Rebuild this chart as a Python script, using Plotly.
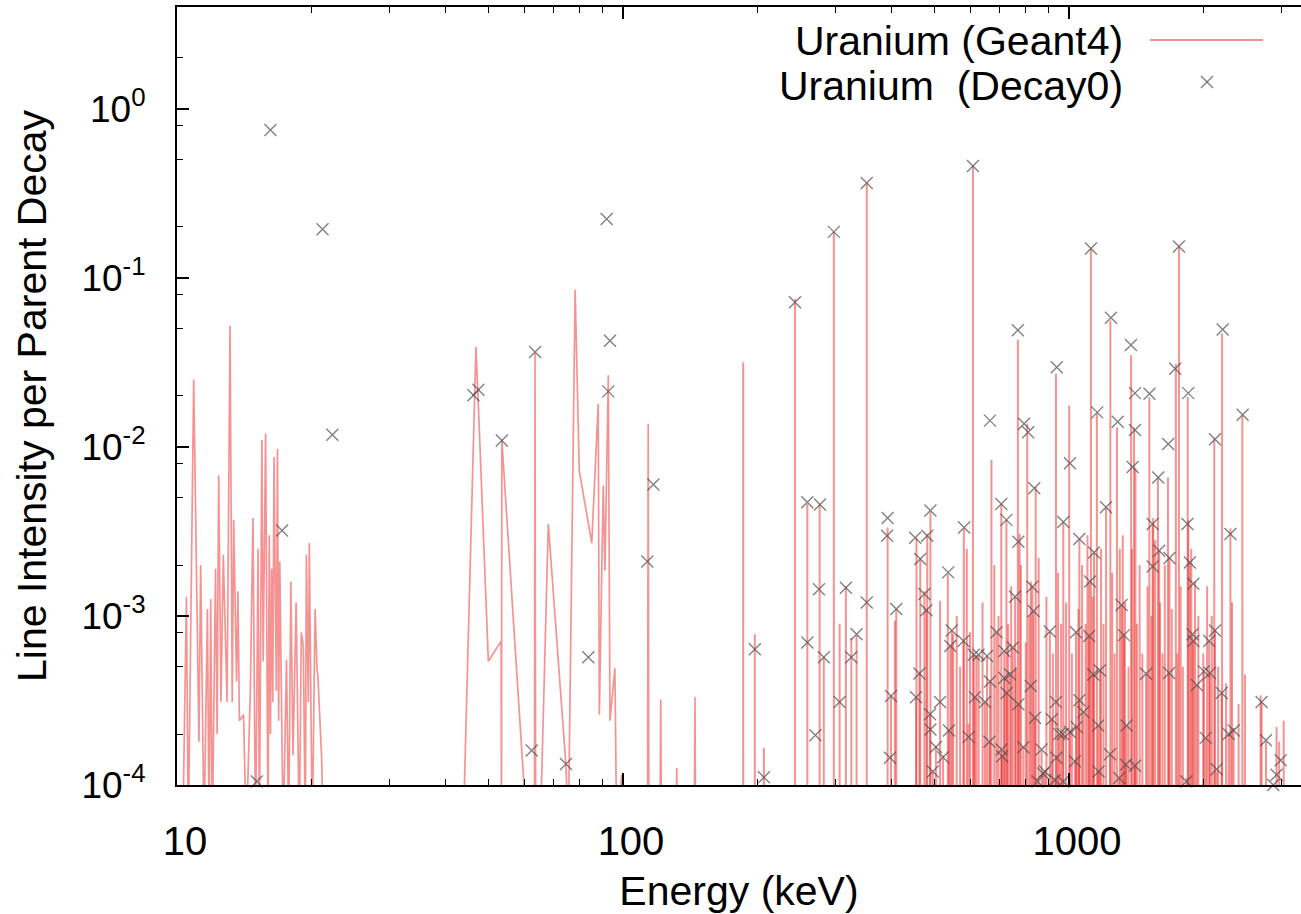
import plotly.graph_objects as go

# ---------------- data ----------------
# Geant4: low-energy part drawn as a connected line (values < 1e-4 lie below the axis)
g4_lowE_energy = [
    10.3, 10.5, 10.6, 10.9, 11.2, 11.3, 11.5, 11.7, 11.8, 11.9,
    12.0, 12.2, 12.3, 12.4, 12.55, 12.7, 12.95, 13.15, 13.3, 13.4,
    13.6, 13.7, 13.8, 14.1, 14.3, 14.6, 14.8, 15.0, 15.2, 15.3,
    15.5, 15.6, 15.8, 16.0, 16.1, 16.2, 16.3, 16.4, 16.5, 16.7,
    16.8, 16.9, 17.0, 17.1, 17.3, 17.6, 17.8, 18.0, 18.2, 18.5,
    18.8, 19.0, 19.2, 19.4, 19.5, 19.7, 19.8, 20.1, 20.4, 20.6,
    20.7, 21.1, 21.3,
    43.8, 46.8, 47.3, 49.9, 53.3, 53.4, 53.5, 61.0, 63.3, 63.5,
    63.7, 65.2, 68.0, 74.5, 75.4, 78.1, 79.8, 85.1, 88.0, 88.5,
    90.3, 91.1, 92.7, 93.5, 95.9, 96.8, 99.3, 100.5, 113.5, 113.9,
    114.3, 121.0, 121.5, 122.0, 131.5, 132.0, 132.5, 144.5, 145.0, 145.5,
]
g4_lowE_intensity = [
    5e-5, 1.3e-3, 5e-5, 0.025, 1.8e-4, 2.0e-3, 5e-5, 1.1e-3, 5e-5, 1.26e-3,
    5e-5, 1.9e-3, 2.0e-4, 6.8e-3, 3.1e-4, 2.3e-3, 3.1e-4, 0.052, 3.1e-4, 3.7e-3,
    4.1e-4, 1.4e-3, 2.4e-4, 2.6e-4, 5e-5, 3.5e-4, 3.8e-3, 5e-5, 2.5e-3, 5e-5,
    0.011, 5.4e-4, 0.012, 5e-5, 3.0e-3, 2.0e-4, 1.9e-3, 3.1e-4, 8.7e-3, 3.6e-4,
    9.7e-3, 2.4e-4, 2.1e-3, 4.0e-4, 5e-5, 5.5e-4, 5e-5, 1.6e-3, 1.5e-4, 1.2e-3,
    5e-5, 8.0e-4, 6.6e-4, 5e-5, 2.3e-3, 3.1e-4, 2.7e-3, 5e-5, 1.1e-3, 4.9e-4,
    4.4e-4, 1.45e-4, 5e-5,
    5e-5, 0.039, 0.020, 5.4e-4, 7.1e-4, 5e-5, 0.011, 5e-5, 5e-5, 0.036,
    5e-5, 5e-5, 3.5e-3, 1.3e-4, 5e-5, 0.085, 7.2e-3, 2.7e-3, 0.018, 2.6e-4,
    5.9e-3, 1.85e-3, 0.0265, 2.4e-4, 4.9e-4, 5e-5, 1.15e-4, 5e-5, 5e-5, 0.0137,
    5e-5, 5e-5, 3.2e-4, 5e-5, 5e-5, 1.26e-4, 5e-5, 5e-5, 3.3e-4, 5e-5,
]

# Geant4: individual gamma lines above ~180 keV (drawn as impulses)
g4_line_energy = [
    186, 197.5, 207, 243, 259, 276, 282, 297, 306, 316,
    325, 334, 352, 392, 407, 455, 481, 489, 514, 535,
    550, 581, 595, 609, 620, 627, 648, 655, 663, 670,
    688, 705, 716, 724, 738, 742, 748, 757, 768, 775,
    790, 806, 821, 833, 839, 842, 868, 906, 915, 935,
    951, 971, 1001, 1031, 1037, 1055, 1077, 1110, 1120, 1134,
    1138, 1155, 1163, 1173, 1211, 1236, 1238, 1281, 1312, 1328,
    1346, 1378, 1399, 1409, 1489, 1514, 1545, 1583, 1593, 1667,
    1680, 1736, 1764, 1846, 1851, 1892, 1917, 1935, 2006, 2062,
    2117, 2125, 2200, 2204, 2280, 2301, 2340, 2447, 2690, 2920,
    2960, 3030,
    # weaker lines
    399, 410, 454, 462, 464, 474, 479, 488, 495, 503,
    522, 538, 542, 546, 560, 570, 580, 590, 600, 612,
    615, 640, 665, 680, 695, 706, 708, 716, 725, 730,
    760, 770, 780, 800, 815, 828, 850, 855, 875, 883,
    890, 920, 930, 937, 945, 960, 969, 985, 1005, 1015,
    1040, 1050, 1055, 1070, 1090, 1100, 1110, 1130, 1165, 1180,
    1195, 1250, 1265, 1296, 1300, 1320, 1335, 1341, 1360, 1385,
    1406, 1420, 1440, 1460, 1500, 1530, 1540, 1560, 1600, 1620,
    1640, 1677, 1700, 1750, 1780, 1800, 1833, 1866, 1880, 1900,
    1950, 2000, 2025, 2040, 2070, 2090, 2144, 2160, 2250, 2320,
    2400, 2480, 2703, 2765,
]
g4_line_intensity = [
    0.0316, 7.8e-4, 1.66e-4, 0.075, 4.6e-3, 4.6e-3, 5.7e-4, 0.187, 9.0e-4, 1.5e-3,
    7.4e-4, 7.7e-4, 0.364, 3.34e-3, 9.4e-4, 2.9e-3, 3.05e-3, 4.1e-3, 1.23e-3, 1.77e-3,
    7.8e-4, 3.27e-3, 2.3e-4, 0.46, 5.9e-4, 5.9e-4, 3.1e-4, 5.8e-4, 1.8e-4, 8.4e-3,
    8.0e-4, 4.6e-3, 6.2e-4, 3.7e-3, 4.5e-4, 1.5e-3, 6.5e-4, 1.3e-3, 0.043, 3.05e-3,
    1.7e-4, 0.0137, 1.6e-3, 1.07e-3, 2.5e-4, 5.8e-3, 1.6e-4, 8.1e-4, 2.45e-4, 0.0271,
    2.0e-4, 3.6e-3, 0.0176, 1.4e-4, 8.0e-4, 2.85e-3, 2.7e-4, 1.6e-3, 0.15, 4.5e-4,
    2.37e-3, 0.0158, 2.25e-4, 4.75e-4, 4.4e-3, 1.5e-4, 0.056, 0.013, 1.16e-3, 7.7e-4,
    2.25e-4, 0.0348, 0.013, 7.5e-3, 4.55e-4, 0.0197, 3.8e-3, 6.6e-3, 2.43e-3, 6.6e-3,
    2.2e-3, 0.031, 0.153, 0.0197, 3.7e-3, 7.8e-4, 1.6e-3, 3.9e-4, 4.7e-4, 7.1e-4,
    0.0112, 8.2e-4, 3.5e-4, 0.0468, 2.0e-4, 3.3e-3, 2.1e-4, 0.0154, 3.4e-4, 2.2e-4,
    1.8e-4, 2.4e-4,
    # weaker lines
    3.4e-4, 1.1e-3, 3.3e-4, 4.6e-4, 2.2e-3, 1.4e-3, 1.1e-3, 2.6e-4, 1.2e-4, 1.7e-4,
    1.5e-4, 2.1e-4, 6.7e-4, 8.2e-4, 1.0e-3, 5.0e-4, 7.1e-4, 2.5e-3, 8.0e-4, 5.9e-4,
    3.3e-4, 1.2e-3, 4.1e-4, 2.0e-3, 1.0e-3, 1.6e-4, 1.5e-4, 4.3e-4, 3.5e-4, 9.0e-4,
    5.0e-4, 3.0e-4, 2.0e-3, 7.0e-4, 1.0e-3, 1.5e-3, 1.1e-4, 2.2e-3, 1.2e-4, 1.2e-4,
    1.3e-3, 6.0e-4, 1.1e-4, 1.5e-4, 1.8e-3, 9.0e-4, 2.0e-4, 1.2e-3, 2.1e-4, 6.0e-4,
    2.2e-4, 1.1e-3, 3.2e-4, 2.0e-3, 9.0e-4, 3.0e-3, 7.6e-4, 1.3e-3, 1.2e-4, 2.5e-3,
    9.0e-4, 1.8e-3, 6.0e-4, 1.1e-4, 2.5e-3, 3.0e-3, 1.2e-3, 1.3e-4, 5.0e-4, 2.5e-3,
    1.3e-4, 9.0e-4, 2.0e-3, 6.0e-4, 1.5e-3, 1.0e-3, 3.5e-3, 2.8e-3, 1.2e-3, 6.0e-4,
    2.0e-3, 4.6e-4, 1.1e-3, 6.0e-4, 1.5e-3, 5.0e-4, 1.1e-4, 2.1e-3, 2.5e-3, 7.1e-4,
    1.0e-3, 6.0e-4, 1.9e-4, 1.5e-3, 4.6e-4, 1.0e-3, 1.2e-4, 5.0e-4, 4.0e-4, 1.2e-3,
    3.0e-4, 4.5e-4, 3.1e-4, 1.8e-4,
]

# Decay0 markers
decay0_energy = [
    15.1, 16.2, 17.2, 21.2, 22.3, 46.2, 47.4, 53.5, 62.4, 63.5,
    74.5, 83.6, 91.9, 92.7, 93.5, 113.4, 117, 197.5, 207, 243,
    259, 259, 270, 275, 276.5, 282, 297, 306, 316, 325,
    334, 352, 352, 391, 392, 397, 399, 410, 452, 454,
    462, 464, 474, 479, 481, 488, 489, 489, 495, 503,
    514, 522, 536, 538, 542, 546, 580, 582, 596, 609,
    612, 615, 627, 648, 655, 663, 665, 665, 688, 705,
    706, 708, 716, 716, 724, 725, 738, 748, 757, 768,
    770, 770, 790, 793, 810, 821, 828, 833, 836, 839,
    850, 868, 875, 883, 906, 915, 930, 935, 937, 939,
    951, 969, 971, 971, 1005, 1005, 1031, 1037, 1040, 1055,
    1055, 1077, 1110, 1115, 1120, 1134, 1138, 1157, 1163, 1165,
    1173, 1211, 1236, 1242, 1286, 1296, 1312, 1328, 1341, 1346,
    1377, 1389, 1406, 1406, 1406, 1489, 1515, 1540, 1540, 1585,
    1593, 1669, 1677, 1680, 1730, 1764, 1833, 1843, 1851, 1866,
    1892, 1900, 1900, 1935, 2006, 2025, 2062, 2070, 2125, 2125,
    2144, 2200, 2211, 2280, 2301, 2340, 2451, 2703, 2765, 2870,
    2920, 2983,
]
decay0_intensity = [
    1.05e-4, 0.75, 3.2e-3, 0.194, 0.0118, 0.0202, 0.0218, 0.0109, 1.6e-4, 0.0364,
    1.33e-4, 5.7e-4, 0.223, 0.0213, 0.0424, 2.1e-3, 6.0e-3, 6.35e-4, 1.11e-4, 0.0718,
    4.71e-3, 6.96e-4, 1.97e-4, 1.44e-3, 4.56e-3, 5.7e-4, 0.187, 3.1e-4, 1.47e-3, 5.7e-4,
    7.8e-4, 0.364, 1.2e-3, 2.98e-3, 3.8e-3, 1.45e-4, 3.36e-4, 1.1e-3, 2.9e-3, 3.3e-4,
    4.56e-4, 2.17e-3, 1.35e-3, 1.08e-3, 2.98e-3, 2.62e-4, 4.2e-3, 2.13e-4, 1.2e-4, 1.68e-4,
    3.1e-4, 1.46e-4, 1.81e-3, 2.1e-4, 6.65e-4, 8.2e-4, 7.1e-4, 3.34e-3, 1.92e-4, 0.459,
    5.9e-4, 3.3e-4, 5.9e-4, 3.1e-4, 5.8e-4, 1.8e-4, 4.1e-4, 0.0143, 8.0e-4, 4.6e-3,
    1.62e-4, 1.48e-4, 6.2e-4, 4.3e-4, 3.7e-3, 3.5e-4, 4.5e-4, 6.5e-4, 1.3e-3, 0.049,
    2.75e-3, 3.0e-4, 1.67e-4, 0.0137, 0.0122, 3.85e-4, 1.49e-3, 1.07e-3, 5.7e-3, 2.5e-4,
    1.05e-4, 1.62e-4, 1.17e-4, 1.2e-4, 8.1e-4, 2.45e-4, 1.07e-4, 3.1e-4, 1.45e-4, 0.0296,
    2.0e-4, 2.0e-4, 1.05e-4, 3.6e-3, 2.06e-4, 8.0e-3, 1.38e-4, 8.0e-4, 2.2e-4, 3.17e-4,
    2.85e-3, 2.7e-4, 7.6e-4, 1.6e-3, 0.149, 4.5e-4, 2.37e-3, 0.016, 2.25e-4, 1.2e-4,
    4.75e-4, 4.4e-3, 1.52e-4, 0.058, 0.0141, 1.1e-4, 1.16e-3, 7.7e-4, 1.32e-4, 2.25e-4,
    0.040, 7.6e-3, 0.0208, 0.0126, 1.3e-4, 4.55e-4, 0.0206, 3.5e-3, 1.96e-3, 6.6e-3,
    2.43e-3, 0.0104, 4.6e-4, 2.2e-3, 0.029, 0.153, 1.05e-4, 3.5e-3, 0.0208, 2.07e-3,
    7.8e-4, 7.1e-4, 1.55e-3, 3.9e-4, 4.7e-4, 1.9e-4, 7.1e-4, 4.6e-4, 8.2e-4, 0.0111,
    1.24e-4, 3.5e-4, 0.0494, 2.0e-4, 3.05e-3, 2.1e-4, 0.0155, 3.1e-4, 1.84e-4, 1.0e-4,
    1.15e-4, 1.4e-4,
]

x_tick_vals = [10, 100, 1000]
x_tick_text = ["10", "100", "1000"]
y_tick_vals = [1e-4, 1e-3, 1e-2, 1e-1, 1]
y_tick_text = ["10<sup>-4</sup>", "10<sup>-3</sup>", "10<sup>-2</sup>",
               "10<sup>-1</sup>", "10<sup>0</sup>"]
x_minor_vals = [20, 30, 40, 50, 60, 70, 80, 90,
                200, 300, 400, 500, 600, 700, 800, 900, 2000, 3000]
y_minor_vals = [m * 10.0 ** k for k in range(-4, 1) for m in (2, 5, 8)]

series_names = ["Uranium (Geant4)", "Uranium\u00a0 (Decay0)"]

# ---------------- styling ----------------
FONT = "Liberation Sans, Arial, Helvetica, sans-serif"
RED = "rgba(236, 40, 40, 0.5)"
GRAY = "rgba(80, 80, 80, 0.72)"
W, H = 1301, 914
ML, MR, MT, MB = 177, 0, 7, 129
FLOOR = 1e-7  # impulses start below the visible range

stem_x, stem_y = [], []
for e, v in zip(g4_line_energy, g4_line_intensity):
    stem_x += [e, e, None]
    stem_y += [FLOOR, v, None]

fig = go.Figure()
fig.add_trace(go.Scatter(x=g4_lowE_energy, y=g4_lowE_intensity, mode="lines",
                         line=dict(color=RED, width=1.7), name=series_names[0],
                         showlegend=False, hoverinfo="skip"))
fig.add_trace(go.Scatter(x=stem_x, y=stem_y, mode="lines",
                         line=dict(color=RED, width=2.0), name=series_names[0],
                         showlegend=False, hoverinfo="skip"))
fig.add_trace(go.Scatter(x=decay0_energy, y=decay0_intensity, mode="markers",
                         marker=dict(symbol="x-thin", size=12, color=GRAY,
                                     line=dict(width=1.4, color=GRAY)),
                         name=series_names[1], showlegend=False, cliponaxis=False))

axis_common = dict(
    showline=True, linecolor="black", linewidth=2,
    ticks="inside", ticklen=12, tickwidth=1.5, tickcolor="black",
    showgrid=False, zeroline=False,
)

fig.update_layout(
    width=W, height=H,
    margin=dict(l=ML, r=MR, t=MT, b=MB, autoexpand=False),
    paper_bgcolor="white", plot_bgcolor="white",
    font=dict(family=FONT, color="black", size=40),
    showlegend=False,
    xaxis=dict(
        type="log", range=[1, 3.5202], mirror="ticks",
        tickvals=x_tick_vals, ticktext=x_tick_text,
        tickfont=dict(size=40, family=FONT, color="black"),
        ticklabelstandoff=20, ticklabelshift=8,
        minor=dict(ticks="inside", ticklen=6, tickwidth=1.2, tickcolor="black",
                   tickvals=x_minor_vals, showgrid=False),
        title=dict(text="Energy (keV)", font=dict(size=41, family=FONT, color="black"),
                   standoff=18),
        **axis_common,
    ),
    yaxis=dict(
        type="log", range=[-4, 0.602], mirror=False,
        tickvals=y_tick_vals, ticktext=y_tick_text,
        tickfont=dict(size=37, family=FONT, color="black"),
        ticklabelstandoff=22,
        minor=dict(ticks="inside", ticklen=6, tickwidth=1.2, tickcolor="black",
                   tickvals=y_minor_vals, showgrid=False),
        title=dict(text="Line Intensity per Parent Decay",
                   font=dict(size=41, family=FONT, color="black"), standoff=22),
        **axis_common,
    ),
)

# ---------------- gnuplot-style key (text, then sample) ----------------
def px_x(px):
    return (px - ML) / (W - ML - MR)

def px_y(py):
    return (H - MB - py) / (H - MB - MT)

fig.add_annotation(x=px_x(1125), y=px_y(41), xref="paper", yref="paper",
                   text=series_names[0], showarrow=False, xanchor="right", yanchor="middle",
                   font=dict(size=41, family=FONT, color="black"))
fig.add_annotation(x=px_x(1125), y=px_y(86), xref="paper", yref="paper",
                   text=series_names[1], showarrow=False, xanchor="right", yanchor="middle",
                   font=dict(size=41, family=FONT, color="black"))
fig.add_shape(type="line", xref="paper", yref="paper",
              x0=px_x(1150), x1=px_x(1263), y0=px_y(40), y1=px_y(40),
              line=dict(color=RED, width=1.8))
for (a, b, c, d) in [(1201, 76, 1213, 88), (1201, 88, 1213, 76)]:
    fig.add_shape(type="line", xref="paper", yref="paper",
                  x0=px_x(a), y0=px_y(b), x1=px_x(c), y1=px_y(d),
                  line=dict(color=GRAY, width=1.4))

fig.write_html("out.html", config={"displayModeBar": False})
